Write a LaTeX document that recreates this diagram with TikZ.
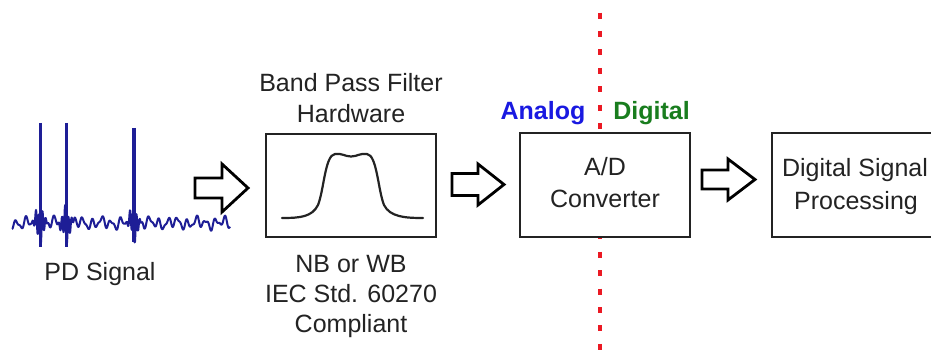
\documentclass[tikz,border=0pt]{standalone}
\usepackage{fontspec}
\setmainfont{Liberation Sans}
\definecolor{txtgray}{RGB}{35,35,35}
\definecolor{sigblue}{RGB}{30,30,150}
\definecolor{anablue}{RGB}{25,25,225}
\definecolor{diggreen}{RGB}{25,125,30}
\definecolor{divred}{RGB}{235,25,35}
\newcommand\myBlockArrow[7]{%
  \draw[blockarrow] (#1,{#4-#6}) -- (#3,{#4-#6}) -- (#3,{#4-#5}) -- (#2,#4)
    -- (#3,{#4+#5}) -- (#3,{#4+#6}) -- (#1,{#4+#6}) -- cycle;
  \coordinate (#7) at ({(#1+#2)/2},#4);}
\begin{document}
\begin{tikzpicture}[x=1pt,y=-1pt,
  box/.style={draw=txtgray, line width=2.4pt, fill=white, inner sep=0pt, outer sep=0pt},
  lbl/.style={font=\fontsize{25}{30}\selectfont, text=txtgray, inner sep=0pt, anchor=base},
  side/.style={font=\fontsize{25}{30}\selectfont\bfseries, inner sep=0pt, anchor=base},
  blockarrow/.style={draw=black, line width=2.8pt, fill=white, line join=miter},
  sig/.style={draw=sigblue, line width=2pt, line join=round},
  spike/.style={draw=sigblue, line width=3pt},
  divider/.style={draw=divred, line width=3.6pt, dash pattern=on 6pt off 12.4pt},
  declare function={burst(\x,\s)=exp(-min(((\x-\s)/5)^2,30))*sin(max(min(\x-\s,25),-25)*110);}
]
\useasboundingbox (0,0) rectangle (931,350);
\clip (0,0) rectangle (931,350);
\fill[white] (0,0) rectangle (931,350);

% analog / digital divider
\coordinate (divtop) at (600,12.6);
\coordinate (divbot) at (600,352);
\draw[divider] (divtop) -- (divbot);

% PD signal
\draw[sig] plot[domain=12:230, samples=600]
  (\x, {223 + 4*sin(\x*38) + 2*sin(\x*65+30) - 2*sin(\x*15)
        + 16*burst(\x,40) + 16*burst(\x,66) + 14*burst(\x,134)});
\coordinate (s1t) at (40,123);  \coordinate (s1b) at (40,247);
\coordinate (s2t) at (66,123);  \coordinate (s2b) at (66,247);
\coordinate (s3t) at (134,128); \coordinate (s3b) at (134,242);
\draw[spike] (s1t) -- (s1b);
\draw[spike] (s2t) -- (s2b);
\draw[spike, line width=3.6pt] (s3t) -- (s3b);
\node[lbl] (pdlbl) at (100,280) {PD Signal};

% band pass filter
\node[lbl] (bpf1) at (351,92) {Band Pass Filter};
\node[lbl] (bpf2) at (351,122) {Hardware};
\node[box, minimum width=170pt, minimum height=103pt] (filter) at (351,185.5) {};
\draw[txtgray, line width=2.2pt, line cap=round]
  (282,218) .. controls (300,218) and (312,217) .. (318,205)
  .. controls (324,190) and (325,155) .. (335,154)
  .. controls (342,153) and (345,156.5) .. (351,156.5)
  .. controls (357,156.5) and (360,153) .. (367,154)
  .. controls (377,155) and (378,190) .. (384,205)
  .. controls (390,217) and (405,218) .. (423,218);
\node[lbl] (nb1) at (351,272) {NB or WB};
\node[lbl] (nb2) at (351,302) {IEC Std. 60270};
\node[lbl] (nb3) at (351,332) {Compliant};

% A/D converter
\node[side, text=anablue] (analog) at (543,120) {Analog};
\node[side, text=diggreen] (digital) at (651.5,120) {Digital};
\node[box, minimum width=170pt, minimum height=104pt] (adc) at (605,185) {};
\node[lbl] (adc1) at (605,175) {A/D};
\node[lbl] (adc2) at (605,207) {Converter};

% digital signal processing
\node[box, minimum width=188pt, minimum height=104pt] (dsp) at (866,185) {};
\node[lbl] (dsp1) at (855,176) {Digital Signal};
\node[lbl] (dsp2) at (856,209) {Processing};

% block arrows
\myBlockArrow{195}{248}{222}{188}{24}{10}{arrA}
\myBlockArrow{452}{504}{478}{184.5}{20.5}{11}{arrB}
\myBlockArrow{702}{755}{728}{179.5}{20.5}{9.5}{arrC}
\end{tikzpicture}
\end{document}
